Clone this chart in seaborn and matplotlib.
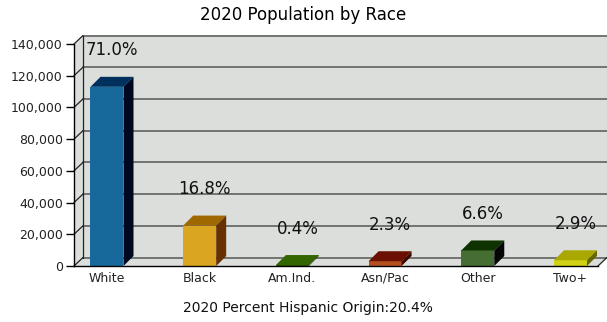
import numpy as np
import pandas as pd
import matplotlib
matplotlib.use("Agg")
import matplotlib.pyplot as plt
import seaborn as sns
from matplotlib.patches import Polygon, Rectangle
from matplotlib.lines import Line2D
from matplotlib.transforms import IdentityTransform
from matplotlib.ticker import FuncFormatter

# ---------------- data ----------------
categories = ["White", "Black", "Am.Ind.", "Asn/Pac", "Other", "Two+"]
population = [113000, 25500, 600, 3000, 9800, 3600]
pct_labels = ["71.0%", "16.8%", "0.4%", "2.3%", "6.6%", "2.9%"]
y_ticks = [0, 20000, 40000, 60000, 80000, 100000, 120000, 140000]
title_text = "2020 Population by Race"
footer_text = "2020 Percent Hispanic Origin:20.4%"

# ---------------- styles ----------------
front_colors = ["#17699b", "#daa520", "#2d5a00", "#b4501e", "#466e32", "#d2d214"]
top_colors = ["#00305e", "#a06800", "#336600", "#6b1000", "#0f3300", "#a8a800"]
side_colors = ["#000820", "#663000", "#1a3300", "#3d0800", "#050505", "#666600"]
wall_color = "#dcdedc"
grid_color = "#5f625f"

sns.set_theme(style="white")
plt.rcParams["font.family"] = ["DejaVu Sans"]

W, H = 607, 322
fig = plt.figure(figsize=(W / 100, H / 100), dpi=100)
fig.patch.set_facecolor("white")
ax = fig.add_axes([74 / W, 56 / H, 524 / W, 222 / H])
ax.set_facecolor("none")

df = pd.DataFrame({"cat": categories, "pop": population})
sns.barplot(data=df, x="cat", y="pop", hue="cat", palette=front_colors,
            saturation=1, width=0.356, linewidth=0, legend=False, ax=ax,
            zorder=3)
bars = sorted([p for p in ax.patches if isinstance(p, Rectangle)],
              key=lambda p: p.get_x())

ymax = y_ticks[-1]
ax.set_ylim(0, ymax)
xl, xr = -0.356, 5.297
ax.set_xlim(xl, xr)
ax.set_yticks(y_ticks)
ax.yaxis.set_major_formatter(FuncFormatter(lambda v, p: f"{v:,.0f}"))
ax.set_xlabel("")
ax.set_ylabel("")
ax.tick_params(axis="y", left=True, length=6, width=1, color="black",
               pad=2, labelsize=9, labelcolor="#222222", direction="out")
ax.tick_params(axis="x", bottom=False, length=0, pad=4, labelsize=9,
               labelcolor="#222222")
for s in ["top", "right"]:
    ax.spines[s].set_visible(False)
for s in ["left", "bottom"]:
    ax.spines[s].set_color("black")
    ax.spines[s].set_linewidth(1.0)
    ax.spines[s].set_zorder(4)

# ---------------- pseudo-3D walls ----------------
WDX, WDY = 9, 8.5
BDX, BDY = 10, 10


def disp(x, y):
    return np.array(ax.transData.transform((x, y)))


ident = IdentityTransform()
wo = np.array([WDX, WDY])
p_fl0 = disp(xl, 0)
p_flt = disp(xl, ymax)
p_fr0 = disp(xr, 0)
p_frt = disp(xr, ymax)
wall = Polygon([p_fl0, p_flt, p_flt + wo, p_frt + wo, p_fr0 + wo, p_fr0],
               closed=True, facecolor=wall_color, edgecolor="none",
               transform=ident, zorder=0, clip_on=False)
ax.add_artist(wall)

for v in y_ticks:
    a = disp(xl, v)
    b = disp(xr, v)
    ax.add_artist(Line2D([a[0] + WDX, b[0] + WDX], [a[1] + WDY, b[1] + WDY],
                         color=grid_color, lw=1.2, transform=ident, zorder=1,
                         clip_on=False))
    ax.add_artist(Line2D([a[0], a[0] + WDX], [a[1], a[1] + WDY],
                         color="#222222", lw=0.9, transform=ident, zorder=1,
                         clip_on=False))
# back-left edge of wall
ax.add_artist(Line2D([p_fl0[0] + WDX, p_flt[0] + WDX],
                     [p_fl0[1] + WDY, p_flt[1] + WDY],
                     color="#222222", lw=0.9, transform=ident, zorder=1,
                     clip_on=False))
# bottom-right floor diagonal
ax.add_artist(Line2D([p_fr0[0], p_fr0[0] + WDX], [p_fr0[1], p_fr0[1] + WDY],
                     color="#222222", lw=0.9, transform=ident, zorder=1,
                     clip_on=False))

# ---------------- pseudo-3D bars ----------------
bo = np.array([BDX, BDY])
for bar, tc, sc, lab in zip(bars, top_colors, side_colors, pct_labels):
    x0 = bar.get_x()
    w = bar.get_width()
    h = bar.get_height()
    a = disp(x0, h)
    b = disp(x0 + w, h)
    c = disp(x0 + w, 0)
    top = Polygon([a, b, b + bo, a + bo], closed=True, facecolor=tc,
                  edgecolor="none", transform=ident, zorder=3, clip_on=False)
    side = Polygon([c, b, b + bo, c + bo], closed=True, facecolor=sc,
                   edgecolor="none", transform=ident, zorder=3, clip_on=False)
    ax.add_artist(top)
    ax.add_artist(side)
    ax.annotate(lab, xy=(x0 + w / 2, h), xytext=(5, 36.5),
                textcoords="offset pixels", ha="center", va="center",
                fontsize=12, color="#111111", zorder=5, annotation_clip=False)

fig.text(0.5, 1 - 15 / H, title_text, ha="center", va="center",
         fontsize=12, color="#000000")
fig.text(308 / W, 1 - 308 / H, footer_text, ha="center", va="center",
         fontsize=10, color="#111111")

fig.savefig("out.png", dpi=100, facecolor="white")
